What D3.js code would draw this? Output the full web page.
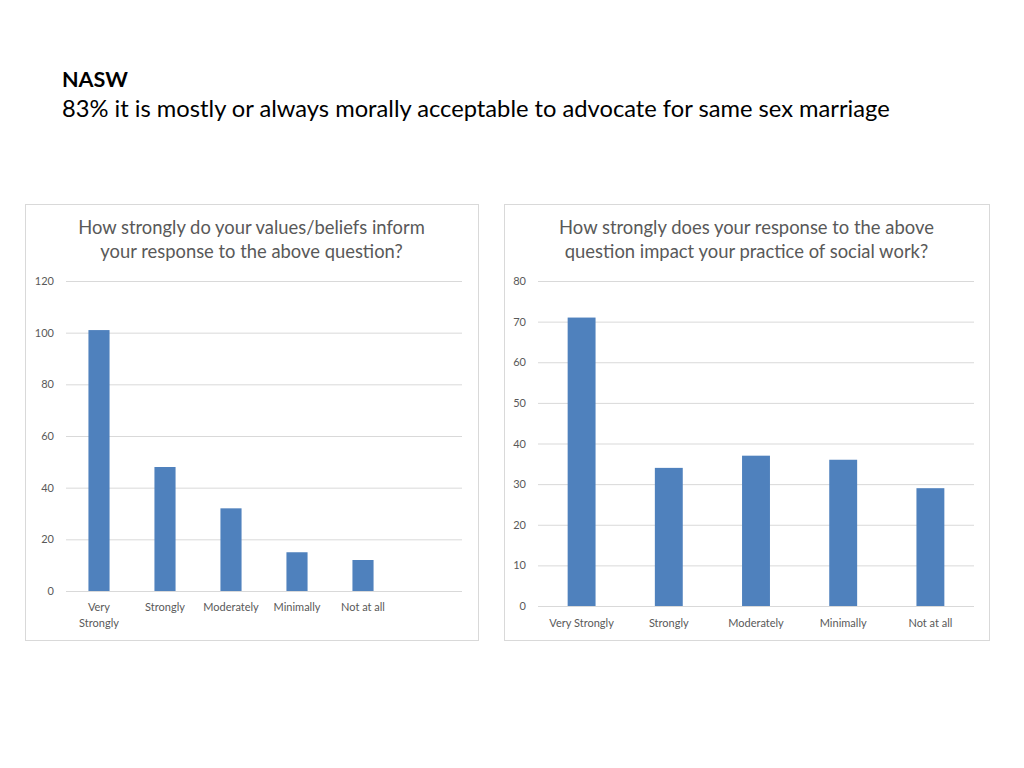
<!DOCTYPE html>
<html><head><meta charset="utf-8">
<script src="https://cdn.jsdelivr.net/npm/d3@7/dist/d3.min.js"></script>
<style>body{margin:0;background:#fff;} svg{display:block;}</style>
</head><body>
<svg id="c" width="1024" height="768"></svg>
<script>
const heading = "NASW";
const subheading = "83% it is mostly or always morally acceptable to advocate for same sex marriage";

const leftTitle = ["How strongly do your values/beliefs inform", "your response to the above question?"];
const leftCategories = ["Very Strongly", "Strongly", "Moderately", "Minimally", "Not at all", ""];
const leftValues = [101, 48, 32, 15, 12, null];
const leftTicks = [0, 20, 40, 60, 80, 100, 120];

const rightTitle = ["How strongly does your response to the above", "question impact your practice of social work?"];
const rightCategories = ["Very Strongly", "Strongly", "Moderately", "Minimally", "Not at all"];
const rightValues = [71, 34, 37, 36, 29];
const rightTicks = [0, 10, 20, 30, 40, 50, 60, 70, 80];

const FONT = "Lato, 'Open Sans', sans-serif";
const svg = d3.select("#c");

function fitText(sel, width, maxSize) {
  let size = maxSize;
  sel.style("font-size", size + "px");
  const w = sel.node().getComputedTextLength();
  if (w > 0) { size = size * width / w; sel.style("font-size", size + "px"); }
  return size;
}

svg.append("text").attr("x", 62).attr("y", 87).attr("font-family", FONT)
  .attr("font-weight", "bold").attr("fill", "#000").text(heading)
  .call(s => fitText(s, 66, 22));
svg.append("text").attr("x", 62).attr("y", 117).attr("font-family", FONT)
  .attr("fill", "#000").text(subheading)
  .call(s => fitText(s, 828, 22));

function chart(cfg) {
  const g = svg.append("g");
  g.append("rect").attr("x", cfg.box[0] + 0.5).attr("y", cfg.box[1] + 0.5)
    .attr("width", cfg.box[2]).attr("height", cfg.box[3])
    .attr("fill", "#fff").attr("stroke", "#d9d9d9").attr("stroke-width", 1);

  const cx = cfg.box[0] + cfg.box[2] / 2;
  let tsize = null;
  cfg.title.forEach((line, i) => {
    const t = g.append("text").attr("x", cx).attr("y", 234 + i * 24)
      .attr("text-anchor", "middle").attr("font-family", FONT).attr("fill", "#595959").text(line);
    if (i === 0) tsize = fitText(t, cfg.titleWidth, 16);
    else t.style("font-size", tsize + "px");
  });

  const x = d3.scaleBand().domain(cfg.categories.map((c, i) => i))
    .range([cfg.x0, cfg.x1]).paddingInner(0.68).paddingOuter(0.34);
  const y = d3.scaleLinear().domain([0, cfg.ticks[cfg.ticks.length - 1]]).range([cfg.yb, cfg.yt]);

  const yAxis = d3.axisLeft(y).tickValues(cfg.ticks).tickSize(-(cfg.x1 - cfg.x0)).tickPadding(12);
  const ya = g.append("g").attr("transform", `translate(${cfg.x0},0)`).call(yAxis);
  ya.select(".domain").remove();
  ya.selectAll(".tick line").attr("stroke", "#d9d9d9").attr("stroke-width", 1);
  ya.selectAll(".tick text").attr("fill", "#595959").attr("font-family", FONT).style("font-size", "11px");

  g.selectAll("rect.bar").data(cfg.values.map((v, i) => ({ v, i })).filter(d => d.v != null))
    .enter().append("rect").attr("class", "bar")
    .attr("x", d => x(d.i)).attr("width", x.bandwidth())
    .attr("y", d => y(d.v)).attr("height", d => y(0) - y(d.v))
    .attr("fill", "#4f81bd");

  const step = x.step();
  cfg.categories.forEach((c, i) => {
    if (!c) return;
    const xc = x(i) + x.bandwidth() / 2;
    let lines = [c];
    if (cfg.wrap) lines = cfg.wrap[i] || [c];
    lines.forEach((ln, j) => {
      g.append("text").attr("x", xc).attr("y", cfg.yb + cfg.labelDy + j * 16)
        .attr("text-anchor", "middle").attr("font-family", FONT).attr("fill", "#595959")
        .style("font-size", "11px").text(ln);
    });
  });
}

chart({
  box: [25, 204, 453, 436], title: leftTitle, titleWidth: 347,
  categories: leftCategories, values: leftValues, ticks: leftTicks,
  x0: 66, x1: 462, yt: 281, yb: 591, labelDy: 20,
  wrap: [["Very", "Strongly"], ["Strongly"], ["Moderately"], ["Minimally"], ["Not at all"]]
});
chart({
  box: [504, 204, 485, 436], title: rightTitle, titleWidth: 375,
  categories: rightCategories, values: rightValues, ticks: rightTicks,
  x0: 538, x1: 974, yt: 281, yb: 606, labelDy: 21
});
</script>
</body></html>
